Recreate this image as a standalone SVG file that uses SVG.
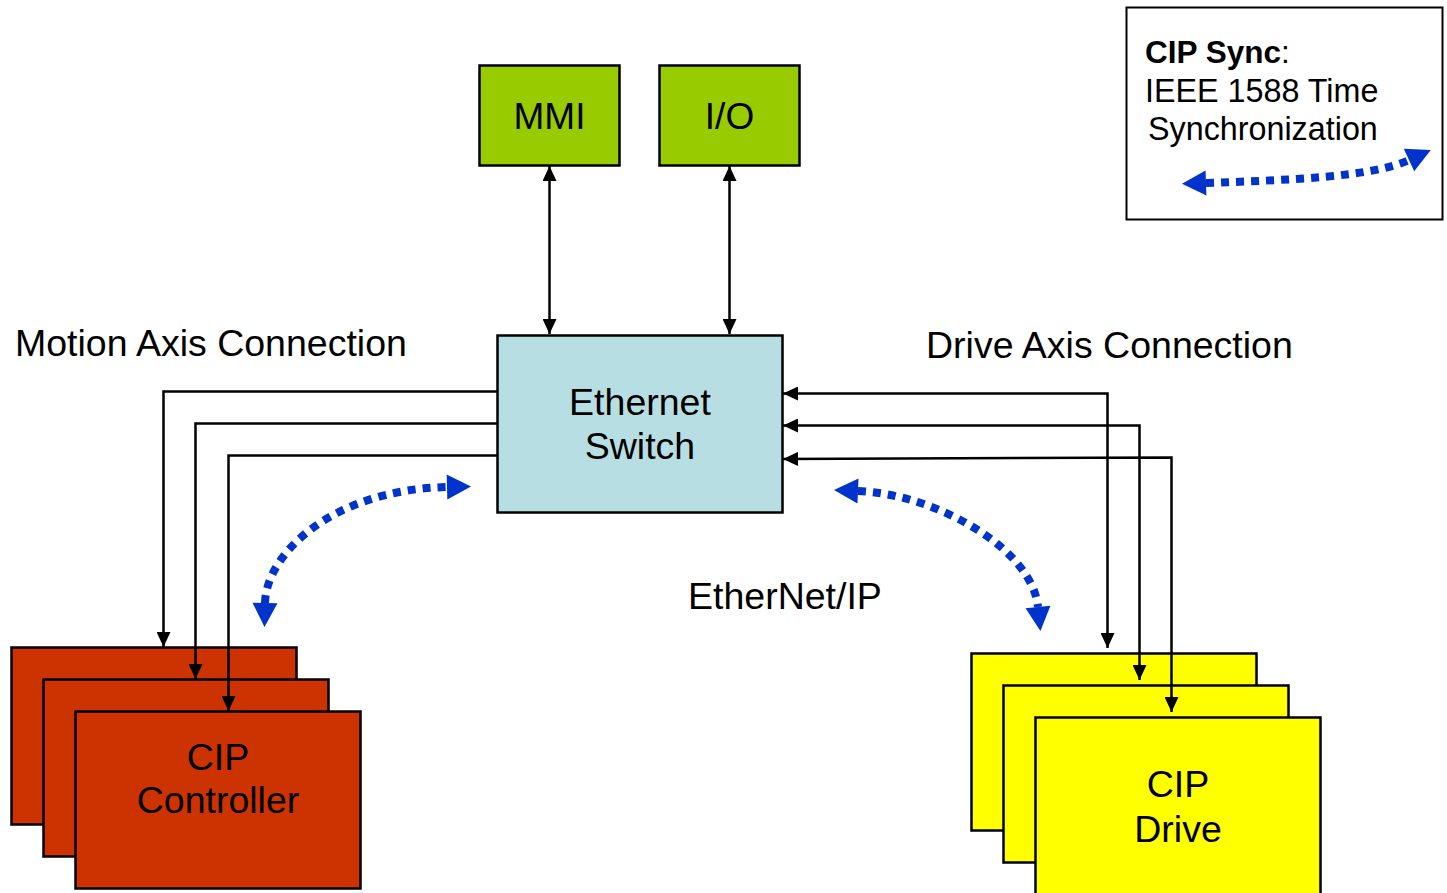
<svg xmlns="http://www.w3.org/2000/svg" width="1447" height="893" viewBox="0 0 1447 893">
  <style>
    .box { stroke: #000; stroke-width: 2.5; }
    .lbl { font-family: "Liberation Sans", Arial, sans-serif; fill: #000; font-size: 37.5px; }
    .wire { fill: none; stroke: #000; stroke-width: 2.5; }
    .sync { fill: none; stroke: #0033cc; stroke-width: 8; stroke-dasharray: 8 7; }
  </style>
  <defs>
    <marker id="ah" markerUnits="userSpaceOnUse" markerWidth="16" markerHeight="14" refX="15" refY="7" orient="auto-start-reverse">
      <path d="M0,0 L15,7 L0,14 Z" fill="#000"/>
    </marker>
    <!-- blue head sits beyond the path end: refX at its base -->
    <marker id="bh" markerUnits="userSpaceOnUse" markerWidth="26" markerHeight="26" refX="0" refY="12.5" orient="auto-start-reverse" overflow="visible">
      <path d="M0,0 L24,12.5 L0,25 Z" fill="#0033cc"/>
    </marker>
  </defs>

  <rect width="1447" height="893" fill="#fff"/>

  <!-- Legend -->
  <g id="legend">
    <rect x="1126.5" y="7.5" width="316" height="212" fill="#fff" stroke="#000" stroke-width="2"/>
    <text class="lbl" x="1145" y="63" style="font-size:31.5px"><tspan font-weight="bold">CIP Sync</tspan>:</text>
    <text class="lbl" x="1145" y="102" style="font-size:32.3px">IEEE 1588 Time</text>
    <text class="lbl" x="1148" y="140" style="font-size:32.3px">Synchronization</text>
  </g>

  <!-- Labels -->
  <text class="lbl" x="15" y="356">Motion Axis Connection</text>
  <text class="lbl" x="926" y="358">Drive Axis Connection</text>
  <text class="lbl" x="688" y="609">EtherNet/IP</text>

  <!-- Nodes -->
  <g id="mmi">
    <rect class="box" x="479.5" y="65.5" width="140" height="100" fill="#99cc00"/>
    <text class="lbl" x="549.5" y="129" text-anchor="middle" style="font-size:37px">MMI</text>
  </g>
  <g id="io">
    <rect class="box" x="659.5" y="65.5" width="140" height="100" fill="#99cc00"/>
    <text class="lbl" x="729.5" y="129" text-anchor="middle" style="font-size:37px">I/O</text>
  </g>
  <g id="switch">
    <rect class="box" x="497.5" y="335.5" width="285" height="177" fill="#b7dfe3"/>
    <text class="lbl" x="640" y="415" text-anchor="middle">Ethernet</text>
    <text class="lbl" x="640" y="459" text-anchor="middle">Switch</text>
  </g>
  <g id="controller">
    <rect class="box" x="11.5" y="647.5" width="285" height="177" fill="#cc3300"/>
    <rect class="box" x="43.5" y="679.5" width="285" height="177" fill="#cc3300"/>
    <rect class="box" x="75.5" y="711.5" width="285" height="177" fill="#cc3300"/>
    <text class="lbl" x="218" y="770" text-anchor="middle">CIP</text>
    <text class="lbl" x="218" y="813" text-anchor="middle">Controller</text>
  </g>
  <g id="drive">
    <rect class="box" x="971.5" y="653.5" width="285" height="177" fill="#ffff00"/>
    <rect class="box" x="1003.5" y="685.5" width="285" height="177" fill="#ffff00"/>
    <rect class="box" x="1035.5" y="717.5" width="285" height="200" fill="#ffff00"/>
    <text class="lbl" x="1178" y="797" text-anchor="middle">CIP</text>
    <text class="lbl" x="1178" y="842" text-anchor="middle">Drive</text>
  </g>

  <!-- Connectors -->
  <g id="connectors">
    <path class="wire" d="M549.5,166 V334" marker-start="url(#ah)" marker-end="url(#ah)"/>
    <path class="wire" d="M729.5,166 V334" marker-start="url(#ah)" marker-end="url(#ah)"/>

    <path class="wire" d="M497,391.5 H163.5 V647" marker-end="url(#ah)"/>
    <path class="wire" d="M497,423.5 H195.5 V679" marker-end="url(#ah)"/>
    <path class="wire" d="M497,455.5 H228.5 V711" marker-end="url(#ah)"/>

    <path class="wire" d="M1107.5,648 V393.5 H783" marker-start="url(#ah)" marker-end="url(#ah)"/>
    <path class="wire" d="M1139.5,680 V425.5 H783" marker-start="url(#ah)" marker-end="url(#ah)"/>
    <path class="wire" d="M1171.5,712 V457.5 L783,459" marker-start="url(#ah)" marker-end="url(#ah)"/>

    <path class="sync" d="M265,603 C266,555 330,490 447,487" marker-start="url(#bh)" marker-end="url(#bh)"/>
    <path class="sync" d="M858,491 C935,494 1032,548 1038,607" marker-start="url(#bh)" marker-end="url(#bh)"/>
    <path class="sync" d="M1206,183 C1290,180 1372,177 1409,160" marker-start="url(#bh)" marker-end="url(#bh)"/>
  </g>
</svg>
